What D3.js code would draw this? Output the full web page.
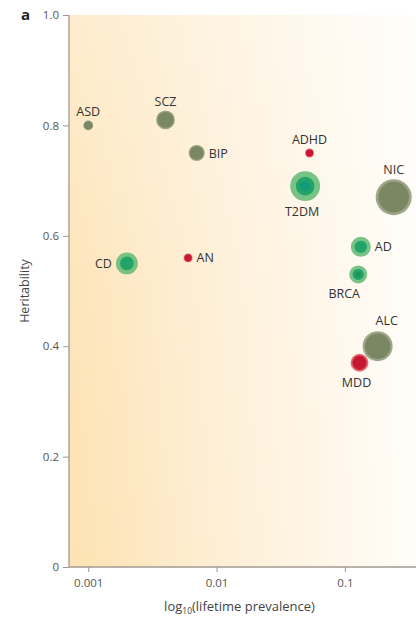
<!DOCTYPE html>
<html><head><meta charset="utf-8">
<script src="https://cdn.jsdelivr.net/npm/d3@7"></script>
<style>html,body{margin:0;padding:0;background:#fff}svg{display:block}</style>
</head><body><svg id="c" width="416" height="621"></svg>
<script>
const diseases   = ["ASD","SCZ","BIP","CD","AN","ADHD","T2DM","NIC","AD","BRCA","ALC","MDD"];
const prevalence = [0.001,0.004,0.007,0.002,0.006,0.053,0.049,0.24,0.133,0.127,0.18,0.13];
const heritability=[0.80,0.81,0.75,0.55,0.56,0.75,0.69,0.67,0.58,0.53,0.40,0.37];
const bubbleSize = [6,22,16,30,5,5,56,81,25,20,56,20];
const group      = ["psy","psy","psy","med","dis","dis","med","psy","med","med","psy","dis"];
const yTicks = [0,0.2,0.4,0.6,0.8,1.0];
const xTicks = [0.001,0.01,0.1];
const xTickLabels = ["0.001","0.01","0.1"];
const labelSide = {ASD:"top",SCZ:"top",BIP:"right",CD:"left",AN:"right",ADHD:"top",T2DM:"bottom",NIC:"top",AD:"right",BRCA:"bottomleft",ALC:"topright",MDD:"bottom"};

const FONT = "'Open Sans', Lato, sans-serif";
const svg = d3.select("#c");
const m = {l:69, t:15, b:567, r:416};
const x = d3.scaleLog().domain([Math.pow(10,-3.15), Math.pow(10,-0.446)]).range([m.l, m.r]);
const y = d3.scaleLinear().domain([0,1]).range([m.b, m.t]);
const rs = d3.scaleSqrt().domain([0,100]).range([0,20]);

const defs = svg.append("defs");
const g1 = defs.append("linearGradient").attr("id","bgH").attr("x1","0").attr("x2","1").attr("y1","0").attr("y2","0");
g1.append("stop").attr("offset","0").attr("stop-color","#fde2b2");
g1.append("stop").attr("offset","0.45").attr("stop-color","#feefd6");
g1.append("stop").attr("offset","1").attr("stop-color","#fffdf9");
const g2 = defs.append("linearGradient").attr("id","bgV").attr("x1","0").attr("x2","0").attr("y1","0").attr("y2","1");
g2.append("stop").attr("offset","0").attr("stop-color","#fff").attr("stop-opacity",0.35);
g2.append("stop").attr("offset","0.5").attr("stop-color","#fff").attr("stop-opacity",0.1);
g2.append("stop").attr("offset","1").attr("stop-color","#fff").attr("stop-opacity",0);

svg.append("rect").attr("x",m.l).attr("y",m.t).attr("width",m.r-m.l).attr("height",m.b-m.t).attr("fill","url(#bgH)");
svg.append("rect").attr("x",m.l).attr("y",m.t).attr("width",m.r-m.l).attr("height",m.b-m.t).attr("fill","url(#bgV)");

// axes
const ya = svg.append("g").attr("transform",`translate(${m.l},0)`)
  .call(d3.axisLeft(y).tickValues(yTicks).tickSize(6).tickPadding(4).tickFormat(d=> d===0?"0":d3.format(".1f")(d)));
const xa = svg.append("g").attr("transform",`translate(0,${m.b})`)
  .call(d3.axisBottom(x).tickValues(xTicks).tickSize(5).tickPadding(7).tickFormat((d,i)=>xTickLabels[i]));
[ya,xa].forEach(a=>{
  a.select(".domain").remove();
  a.selectAll("line").attr("stroke","#9a9a9a");
  a.selectAll("text").attr("fill","#555").style("font-family",FONT).style("font-size","11.5px");
});
svg.append("line").attr("x1",m.l).attr("x2",m.l).attr("y1",m.t).attr("y2",m.b).attr("stroke","#a09a90").attr("stroke-width",1.3);
svg.append("line").attr("x1",m.l).attr("x2",m.r).attr("y1",m.b).attr("y2",m.b).attr("stroke","#a09a90").attr("stroke-width",1.3);

// panel letter
svg.append("text").attr("x",21).attr("y",20).text("a").style("font-family",FONT).style("font-weight","bold").style("font-size","15px").attr("fill","#222");

// axis titles
svg.append("text").attr("transform",`translate(29,${(m.t+m.b)/2}) rotate(-90)`).attr("text-anchor","middle")
  .style("font-family",FONT).style("font-size","12.5px").attr("fill","#444").text("Heritability");
const xt = svg.append("text").attr("x",(m.l+m.r)/2-3).attr("y",611).attr("text-anchor","middle")
  .style("font-family",FONT).style("font-size","13px").attr("fill","#444");
xt.append("tspan").text("log");
xt.append("tspan").text("10").attr("font-size","8.5px").attr("dy","3");
xt.append("tspan").text("(lifetime prevalence)").attr("dy","-3");

// points
const data = diseases.map((d,i)=>({name:d,p:prevalence[i],h:heritability[i],s:bubbleSize[i],g:group[i]}));
const style = {
  psy:{outer:"#8c9775", inner:"#76845f", ratio:0.85},
  med:{outer:"#62b874", inner:"#18a065", ratio:0.62},
  dis:{outer:"#e2505e", inner:"#c30f2c", ratio:0.8}
};
const pts = svg.append("g").selectAll("g").data(data).join("g")
  .attr("transform",d=>`translate(${x(d.p)},${y(d.h)})`);
pts.append("circle").attr("r",d=>rs(d.s)).attr("fill",d=>style[d.g].outer).attr("opacity",0.85);
pts.append("circle").attr("r",d=>rs(d.s)*style[d.g].ratio).attr("fill",d=>style[d.g].inner).attr("opacity",0.9);
pts.filter(d=>d.name==="T2DM").append("circle").attr("r",d=>rs(d.s)*0.33).attr("fill","#129a7a");
pts.filter(d=>d.name==="BRCA").append("circle").attr("r",d=>rs(d.s)*0.3).attr("fill","#1a9560");

// labels
pts.append("text").text(d=>d.name)
  .style("font-family",FONT).style("font-size","12.5px").attr("fill","#333")
  .each(function(d){
    const r = rs(d.s), s = labelSide[d.name], t = d3.select(this);
    if(s==="top"){t.attr("text-anchor","middle").attr("x",0).attr("y",-r-5);}
    else if(s==="bottom"){t.attr("text-anchor","middle").attr("x",-3).attr("y",r+15);}
    else if(s==="right"){t.attr("text-anchor","start").attr("x",r+4).attr("y",4.5);}
    else if(s==="left"){t.attr("text-anchor","end").attr("x",-r-4).attr("y",4.5);}
    else if(s==="bottomleft"){t.attr("text-anchor","middle").attr("x",-14).attr("y",r+15);}
    else if(s==="topright"){t.attr("text-anchor","middle").attr("x",9).attr("y",-r-6);}
  });
</script></body></html>
